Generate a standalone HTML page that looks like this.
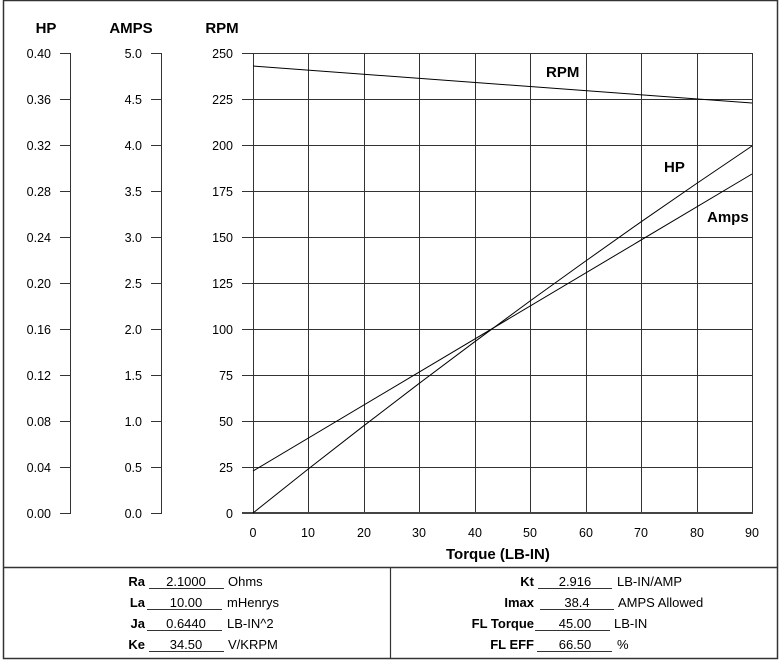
<!DOCTYPE html><html><head><style>body{margin:0;background:#fff}svg{display:block}text{font-family:"Liberation Sans",sans-serif;fill:#000}</style></head><body>
<svg width="781" height="660" xmlns="http://www.w3.org/2000/svg">
<rect x="3.5" y="0.5" width="774" height="658" fill="none" stroke="#333" stroke-width="1.5"/>
<line x1="3" y1="567.5" x2="778" y2="567.5" stroke="#333" stroke-width="1.5"/>
<line x1="390.5" y1="567" x2="390.5" y2="659" stroke="#333" stroke-width="1.2"/>
<g font-size="15" font-weight="bold" text-anchor="middle"><text x="46" y="33">HP</text><text x="131" y="33">AMPS</text><text x="222" y="33">RPM</text></g>
<g stroke="#333" stroke-width="1">
<line x1="70.5" y1="53" x2="70.5" y2="513"/><line x1="161.5" y1="53" x2="161.5" y2="513"/>
</g>
<g font-size="15" font-weight="bold"><text x="546" y="77">RPM</text><text x="664" y="172">HP</text><text x="707" y="222">Amps</text><text x="446" y="559">Torque (LB-IN)</text></g>
<g font-size="13">
<g font-weight="bold" text-anchor="end"><text x="145" y="586">Ra</text><text x="145" y="607">La</text><text x="145" y="628">Ja</text><text x="145" y="649">Ke</text>
<text x="534" y="586">Kt</text><text x="534" y="607">Imax</text><text x="534" y="628">FL Torque</text><text x="534" y="649">FL EFF</text></g>
<g text-anchor="middle"><text x="186" y="586">2.1000</text><text x="186" y="607">10.00</text><text x="186" y="628">0.6440</text><text x="186" y="649">34.50</text>
<text x="575" y="586">2.916</text><text x="577" y="607">38.4</text><text x="575" y="628">45.00</text><text x="575" y="649">66.50</text></g>
<text x="228" y="586">Ohms</text><text x="227" y="607">mHenrys</text><text x="227" y="628">LB-IN^2</text><text x="228" y="649">V/KRPM</text>
<text x="617" y="586">LB-IN/AMP</text><text x="618" y="607">AMPS Allowed</text><text x="614" y="628">LB-IN</text><text x="617" y="649">%</text>
</g>
<g stroke="#333" stroke-width="1">
<line x1="149" y1="588.5" x2="224" y2="588.5"/><line x1="147" y1="609.5" x2="222" y2="609.5"/><line x1="147" y1="630.5" x2="222" y2="630.5"/><line x1="149" y1="651.5" x2="224" y2="651.5"/>
<line x1="538" y1="588.5" x2="612" y2="588.5"/><line x1="540" y1="609.5" x2="614" y2="609.5"/><line x1="535" y1="630.5" x2="610" y2="630.5"/><line x1="537" y1="651.5" x2="612" y2="651.5"/>
</g>
<g stroke="#333" stroke-width="1" fill="none">
<path d="M253.5 53V513M308.5 53V513M364.5 53V513M419.5 53V513M475.5 53V513M530.5 53V513M586.5 53V513M641.5 53V513M697.5 53V513M752.5 53V513"/>
<path d="M242 53.5H753M242 99.5H753M242 145.5H753M242 191.5H753M242 237.5H753M242 283.5H753M242 329.5H753M242 375.5H753M242 421.5H753M242 467.5H753"/>
<path d="M60 53.5H71M60 99.5H71M60 145.5H71M60 191.5H71M60 237.5H71M60 283.5H71M60 329.5H71M60 375.5H71M60 421.5H71M60 467.5H71M60 513.5H71"/>
<path d="M151 53.5H162M151 99.5H162M151 145.5H162M151 191.5H162M151 237.5H162M151 283.5H162M151 329.5H162M151 375.5H162M151 421.5H162M151 467.5H162M151 513.5H162"/>
</g>
<line x1="242" y1="513" x2="753" y2="513" stroke="#444" stroke-width="2"/>
<g stroke="#000" stroke-width="1" fill="none">
<line x1="253" y1="66" x2="752" y2="103"/>
<polyline points="253,513 308.4,468.9 363.9,425.7 419.3,383.3 474.8,341.7 530.2,300.9 585.7,261 641.1,221.8 696.6,183.5 752,146"/>
<line x1="253" y1="471" x2="752" y2="174"/>
</g>
<g font-size="12.5" text-anchor="end">
<text x="51" y="58">0.40</text><text x="51" y="104">0.36</text><text x="51" y="150">0.32</text><text x="51" y="196">0.28</text><text x="51" y="242">0.24</text><text x="51" y="288">0.20</text><text x="51" y="334">0.16</text><text x="51" y="380">0.12</text><text x="51" y="426">0.08</text><text x="51" y="472">0.04</text><text x="51" y="518">0.00</text>
<text x="142" y="58">5.0</text><text x="142" y="104">4.5</text><text x="142" y="150">4.0</text><text x="142" y="196">3.5</text><text x="142" y="242">3.0</text><text x="142" y="288">2.5</text><text x="142" y="334">2.0</text><text x="142" y="380">1.5</text><text x="142" y="426">1.0</text><text x="142" y="472">0.5</text><text x="142" y="518">0.0</text>
<text x="233" y="58">250</text><text x="233" y="104">225</text><text x="233" y="150">200</text><text x="233" y="196">175</text><text x="233" y="242">150</text><text x="233" y="288">125</text><text x="233" y="334">100</text><text x="233" y="380">75</text><text x="233" y="426">50</text><text x="233" y="472">25</text><text x="233" y="518">0</text>
</g>
<g font-size="12.5" text-anchor="middle">
<text x="253" y="537">0</text><text x="308" y="537">10</text><text x="364" y="537">20</text><text x="419" y="537">30</text><text x="475" y="537">40</text><text x="530" y="537">50</text><text x="586" y="537">60</text><text x="641" y="537">70</text><text x="697" y="537">80</text><text x="752" y="537">90</text>
</g>
</svg>
</body></html>
